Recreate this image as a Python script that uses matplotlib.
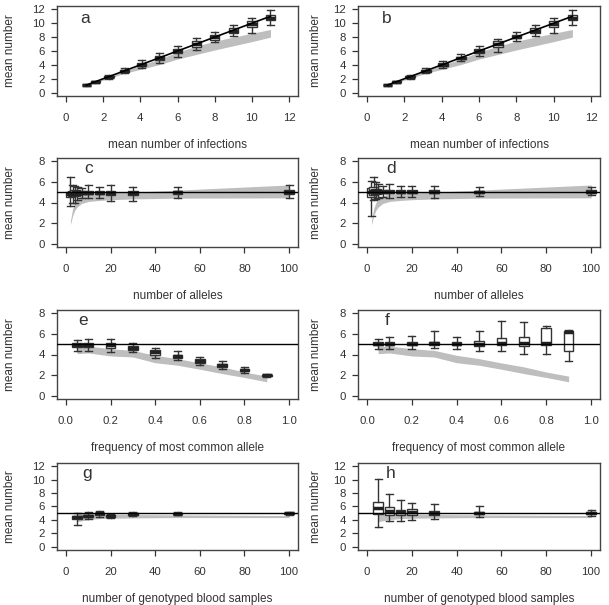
import numpy as np
import matplotlib
matplotlib.use("Agg")
import matplotlib.pyplot as plt

plt.rcParams['font.family'] = ['Liberation Sans', 'DejaVu Sans']

# ---- data ----
# a / b : mean number of infections
a_x = [1.10, 1.58, 2.31, 3.16, 4.07, 5.03, 6.01, 7.01, 8.00, 9.00, 10.00, 11.00]
a_lo = [1.02, 1.45, 2.0, 2.8, 3.6, 4.3, 5.2, 6.2, 7.3, 8.2, 8.6, 9.8]
a_q1 = [1.06, 1.52, 2.2, 3.0, 3.85, 4.7, 5.7, 6.6, 7.65, 8.6, 9.5, 10.4]
a_med = [1.10, 1.57, 2.3, 3.15, 4.05, 5.0, 5.95, 7.0, 7.95, 8.95, 9.9, 10.8]
a_q3 = [1.14, 1.63, 2.4, 3.3, 4.25, 5.3, 6.3, 7.4, 8.3, 9.3, 10.3, 11.2]
a_hi = [1.2, 1.7, 2.6, 3.6, 4.65, 5.75, 6.7, 7.8, 8.8, 9.7, 10.7, 11.9]
a_band_lo = [1.05, 1.45, 2.05, 2.8, 3.4, 4.05, 4.85, 5.5, 6.15, 6.75, 7.35, 8.0]
a_band_hi = [1.10, 1.58, 2.3, 3.15, 4.0, 4.85, 5.85, 6.7, 7.4, 8.0, 8.55, 9.1]

b_lo = [1.02, 1.45, 2.0, 2.8, 3.6, 4.5, 5.3, 5.8, 7.5, 8.1, 8.6, 9.8]
b_q1 = [1.06, 1.52, 2.2, 3.0, 3.85, 4.8, 5.75, 6.6, 7.8, 8.6, 9.5, 10.4]
b_med = [1.10, 1.57, 2.3, 3.15, 4.05, 5.0, 6.0, 7.0, 8.05, 8.95, 9.9, 10.8]
b_q3 = [1.14, 1.63, 2.4, 3.3, 4.25, 5.2, 6.25, 7.4, 8.3, 9.3, 10.3, 11.2]
b_hi = [1.2, 1.7, 2.6, 3.6, 4.55, 5.5, 6.7, 7.7, 8.8, 9.7, 10.7, 11.9]

# c / d : number of alleles
c_x = [2, 3, 4, 5, 7, 10, 15, 20, 30, 50, 100]
c_lo = [3.65, 4.0, 4.0, 4.2, 4.4, 4.4, 4.43, 4.18, 4.18, 4.43, 4.4]
c_q1 = [4.5, 4.6, 4.6, 4.7, 4.8, 4.8, 4.8, 4.75, 4.75, 4.85, 4.8]
c_med = [4.8, 4.85, 4.9, 4.9, 4.95, 4.95, 4.95, 4.95, 4.95, 5.0, 5.0]
c_q3 = [5.0, 5.1, 5.2, 5.1, 5.1, 5.1, 5.1, 5.15, 5.1, 5.15, 5.2]
c_hi = [6.45, 5.7, 5.6, 5.5, 5.4, 5.67, 5.47, 5.73, 5.54, 5.5, 5.7]
c_band_lo = [1.85, 2.7, 3.25, 3.55, 3.9, 4.1, 4.2, 4.27, 4.35, 4.42, 4.45]
c_band_hi = [2.2, 3.4, 4.0, 4.35, 4.65, 4.8, 4.9, 4.95, 5.0, 5.2, 5.7]

d_lo = [2.7, 4.2, 4.3, 4.4, 4.55, 4.44, 4.53, 4.5, 4.44, 4.6, 4.75]
d_q1 = [4.5, 4.7, 4.8, 4.9, 4.9, 4.95, 4.95, 4.95, 4.95, 4.9, 4.95]
d_med = [5.0, 5.1, 5.1, 5.05, 5.05, 5.05, 5.05, 5.05, 5.05, 5.0, 5.05]
d_q3 = [5.4, 5.5, 5.3, 5.25, 5.2, 5.2, 5.2, 5.2, 5.2, 5.15, 5.2]
d_hi = [6.05, 6.45, 5.95, 5.8, 5.6, 5.8, 5.6, 5.6, 5.65, 5.5, 5.5]

# e / f : frequency of most common allele
e_x = [0.05, 0.1, 0.2, 0.3, 0.4, 0.5, 0.6, 0.7, 0.8, 0.9]
e_lo = [4.34, 4.34, 4.2, 4.2, 3.67, 3.44, 2.96, 2.64, 2.22, 1.77]
e_q1 = [4.7, 4.7, 4.6, 4.45, 4.0, 3.7, 3.2, 2.8, 2.35, 1.9]
e_med = [4.95, 4.95, 4.9, 4.6, 4.2, 3.85, 3.4, 2.95, 2.45, 1.97]
e_q3 = [5.1, 5.1, 5.1, 4.8, 4.4, 4.0, 3.55, 3.1, 2.6, 2.05]
e_hi = [5.43, 5.47, 5.5, 5.15, 4.63, 4.3, 3.76, 3.34, 2.8, 2.12]
e_band_lo = [4.08, 4.15, 3.86, 3.76, 3.2, 2.96, 2.57, 2.15, 1.77, 1.35]
e_band_hi = [4.8, 4.82, 4.56, 4.4, 3.92, 3.6, 3.18, 2.8, 2.3, 1.9]

f_lo = [4.5, 4.5, 4.5, 4.6, 4.5, 4.3, 4.3, 4.05, 4.05, 3.4]
f_q1 = [4.9, 4.9, 4.9, 4.95, 4.9, 4.8, 4.9, 4.8, 4.9, 4.35]
f_med = [5.05, 5.05, 5.05, 5.1, 5.05, 5.05, 5.15, 5.1, 5.15, 6.2]
f_q3 = [5.2, 5.2, 5.2, 5.25, 5.2, 5.3, 5.6, 5.7, 6.6, 6.25]
f_hi = [5.5, 5.7, 5.8, 6.25, 5.7, 6.25, 7.25, 7.2, 6.8, 6.35]

# g / h : number of genotyped blood samples
g_x = [5, 10, 15, 20, 30, 50, 100]
g_lo = [3.3, 4.2, 4.5, 4.25, 4.55, 4.7, 4.8]
g_q1 = [4.1, 4.45, 4.8, 4.45, 4.7, 4.85, 4.9]
g_med = [4.4, 4.6, 5.0, 4.6, 4.85, 4.95, 5.0]
g_q3 = [4.6, 4.8, 5.1, 4.7, 5.0, 5.05, 5.1]
g_hi = [5.1, 5.15, 5.3, 4.95, 5.2, 5.15, 5.15]
g_band_lo = [3.75, 4.05, 4.2, 4.25, 4.3, 4.35, 4.35]
g_band_hi = [4.95, 4.95, 4.9, 4.85, 4.8, 4.75, 4.65]

h_lo = [3.0, 3.83, 3.83, 4.05, 4.2, 4.4, 4.6]
h_q1 = [4.9, 4.7, 4.8, 4.8, 4.75, 4.9, 4.9]
h_med = [5.8, 5.3, 5.15, 5.2, 5.1, 5.05, 5.0]
h_q3 = [6.7, 5.9, 5.5, 5.6, 5.4, 5.25, 5.15]
h_hi = [10.1, 7.8, 7.0, 6.5, 6.35, 6.0, 5.55]

TXT = '#333333'
EDGE = '#333333'
BAND = '#bebebe'

fig = plt.figure(figsize=(6.09, 6.05), dpi=100)
W, H = 609.0, 605.0

cols = [(57, 241), (358, 242)]
rows = [(6, 96), (158, 247), (310, 399), (463, 550)]


def make_ax(r, c):
    l, w = cols[c]
    t, b = rows[r]
    return fig.add_axes([l / W, 1 - b / H, w / W, (b - t) / H])


def panel(ax, x, lo, q1, med, q3, hi, bx, blo, bhi, xmax, ymax, xticks, yticks,
          xlabel, letter, letpos, diag=False, col=0):
    # px per data unit on x, to keep box widths constant in pixels
    wpx = cols[col][1]
    span = xmax * 1.08
    unit = wpx / span
    bw = 9.5 / unit
    cw = 7.0 / unit

    ax.fill_between(bx, blo, bhi, color=BAND, lw=0, zorder=1)

    stats = []
    for i in range(len(x)):
        stats.append(dict(med=med[i], q1=q1[i], q3=q3[i], whislo=lo[i],
                          whishi=hi[i], fliers=[]))
    ax.bxp(stats, positions=x, widths=bw, capwidths=cw, showfliers=False,
           manage_ticks=False, patch_artist=True,
           boxprops=dict(facecolor='white', edgecolor=EDGE, lw=1.0),
           medianprops=dict(color='#222222', lw=2.5, solid_capstyle='butt'),
           whiskerprops=dict(color=EDGE, lw=1.0),
           capprops=dict(color=EDGE, lw=1.0), zorder=2)

    if diag:
        ax.plot(x, x, color='black', lw=1.2, zorder=3)
    else:
        ax.axhline(5, color='black', lw=1.0, zorder=3)

    ax.set_xlim(-0.04 * xmax, 1.04 * xmax)
    ax.set_ylim(-0.04 * ymax, 1.04 * ymax)
    ax.set_xticks(xticks)
    ax.set_yticks(yticks)
    ax.tick_params(axis='both', direction='out', length=4.5, width=0.9,
                   colors=EDGE, labelcolor=TXT, labelsize=8.2)
    ax.tick_params(axis='x', pad=8)
    ax.tick_params(axis='y', pad=4)
    for s in ax.spines.values():
        s.set_color('#444444')
        s.set_linewidth(1.0)
    ax.set_xlabel(xlabel, fontsize=8.5, color=TXT, labelpad=11)
    ax.set_ylabel('mean number', fontsize=8.5, color=TXT)
    ax.yaxis.set_label_coords(-0.17 if col == 0 else -0.149, 0.5)
    ax.text(letpos[0], letpos[1], letter, transform=ax.transAxes,
            fontsize=12.5, color=TXT, ha='center', va='center')


t12 = [0, 2, 4, 6, 8, 10, 12]
t8 = [0, 2, 4, 6, 8]
t100 = [0, 20, 40, 60, 80, 100]
t1 = [0.0, 0.2, 0.4, 0.6, 0.8, 1.0]

ax = make_ax(0, 0)
panel(ax, a_x, a_lo, a_q1, a_med, a_q3, a_hi, a_x, a_band_lo, a_band_hi,
      12, 12, t12, t12, 'mean number of infections', 'a', (0.118, 0.86), True, 0)
ax = make_ax(0, 1)
panel(ax, a_x, b_lo, b_q1, b_med, b_q3, b_hi, a_x, a_band_lo, a_band_hi,
      12, 12, t12, t12, 'mean number of infections', 'b', (0.12, 0.86), True, 1)

ax = make_ax(1, 0)
panel(ax, c_x, c_lo, c_q1, c_med, c_q3, c_hi, c_x, c_band_lo, c_band_hi,
      100, 8, t100, t8, 'number of alleles', 'c', (0.13, 0.88), False, 0)
ax = make_ax(1, 1)
panel(ax, c_x, d_lo, d_q1, d_med, d_q3, d_hi, c_x, c_band_lo, c_band_hi,
      100, 8, t100, t8, 'number of alleles', 'd', (0.136, 0.88), False, 1)

ax = make_ax(2, 0)
panel(ax, e_x, e_lo, e_q1, e_med, e_q3, e_hi, e_x, e_band_lo, e_band_hi,
      1.0, 8, t1, t8, 'frequency of most common allele', 'e', (0.11, 0.88), False, 0)
ax.set_xticklabels(['0.0', '0.2', '0.4', '0.6', '0.8', '1.0'])
ax = make_ax(2, 1)
panel(ax, e_x, f_lo, f_q1, f_med, f_q3, f_hi, e_x, e_band_lo, e_band_hi,
      1.0, 8, t1, t8, 'frequency of most common allele', 'f', (0.12, 0.88), False, 1)
ax.set_xticklabels(['0.0', '0.2', '0.4', '0.6', '0.8', '1.0'])

ax = make_ax(3, 0)
panel(ax, g_x, g_lo, g_q1, g_med, g_q3, g_hi, g_x, g_band_lo, g_band_hi,
      100, 12, t100, t12, 'number of genotyped blood samples', 'g', (0.125, 0.88), False, 0)
ax = make_ax(3, 1)
panel(ax, g_x, h_lo, h_q1, h_med, h_q3, h_hi, g_x, g_band_lo, g_band_hi,
      100, 12, t100, t12, 'number of genotyped blood samples', 'h', (0.136, 0.88), False, 1)

fig.savefig('out.png', dpi=100)
